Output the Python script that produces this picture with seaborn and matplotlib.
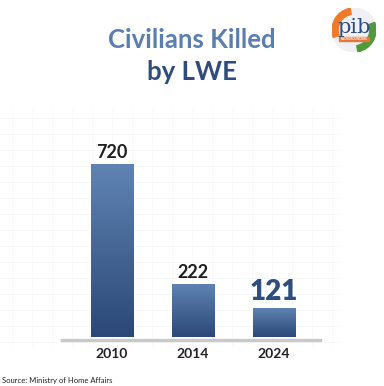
import matplotlib
matplotlib.use("Agg")
import matplotlib.pyplot as plt
import seaborn as sns
import numpy as np
import pandas as pd
from matplotlib.patches import Circle, Wedge, Rectangle
from matplotlib.colors import LinearSegmentedColormap

years = ["2010", "2014", "2024"]
killed = [720, 222, 121]
title1 = "Civilians Killed"
title2 = "by LWE"
source = "Source: Ministry of Home Affairs"

sns.set_theme(style="white")
plt.rcParams['font.family'] = ['Lato', 'DejaVu Sans']

df = pd.DataFrame({"year": years, "killed": killed})

fig = plt.figure(figsize=(3.84, 3.86), dpi=100)
fig.patch.set_facecolor("white")

# faint background grid
bg = fig.add_axes([0, 0, 1, 1], zorder=-5)
bg.set_xlim(0, 384); bg.set_ylim(386, 0)
for gx in np.arange(12, 340, 20):
    bg.plot([gx, gx], [110, 345], color="#f6f7f9", lw=0.6)
for gy in np.arange(118, 345, 16):
    bg.plot([0, 340], [gy, gy], color="#f6f7f9", lw=0.6)
bg.axis("off")

ax = fig.add_axes([62/384, 49/386, 258/384, 197/386])
ax.patch.set_alpha(0)
sns.barplot(data=df, x="year", y="killed", ax=ax, color="#4a6b9c",
            width=0.52, saturation=1)

# gradient fill
grad = np.linspace(0, 1, 256).reshape(-1, 1)
cmap = LinearSegmentedColormap.from_list("g", ["#5f84b4", "#2b4877"])
for p in ax.patches:
    x0, y0 = p.get_x(), p.get_y()
    w, h = p.get_width(), p.get_height()
    im = ax.imshow(grad, extent=[x0, x0 + w, y0, y0 + h], aspect="auto",
                   cmap=cmap, origin="upper", zorder=p.get_zorder() + 0.1)
    im.set_clip_path(p)
ax.set_xlim(-0.617, 2.574)
ax.set_ylim(0, 820)

for s in ["top", "right", "left"]:
    ax.spines[s].set_visible(False)
ax.spines["bottom"].set_color("#c9c9c9")
ax.spines["bottom"].set_linewidth(2.4)
ax.spines["bottom"].set_position(("outward", 2))
ax.set_yticks([])
ax.set_xlabel(""); ax.set_ylabel("")
ax.tick_params(axis="x", length=0, pad=6, labelsize=10, labelcolor="#222222")
for lab in ax.get_xticklabels():
    lab.set_fontweight("bold")

for i, v in enumerate(killed):
    if i == 2:
        ax.text(i, v + 14, str(v), ha="center", va="bottom", fontsize=20,
                fontweight="heavy", color="#2f4e7e")
    else:
        ax.text(i, v + 12, str(v), ha="center", va="bottom", fontsize=13,
                fontweight="bold", color="#1e1e1e")

fig.text(0.5, 1 - 40/386, title1, ha="center", va="center", fontsize=18.5,
         fontweight="bold", color="#5a7eae")
fig.text(0.5, 1 - 72/386, title2, ha="center", va="center", fontsize=18.5,
         fontweight="bold", color="#2f4c7c")
fig.text(2/384, 1 - 380/386, source, ha="left", va="center", fontsize=5.5,
         color="#222222")

# logo approximation
lg = fig.add_axes([332/384, 1 - 52/386, 44/384, 44/386])
lg.set_xlim(-1, 1); lg.set_ylim(-1, 1); lg.set_aspect("equal"); lg.axis("off")
lg.add_patch(Circle((0, 0), 1, color="#eef0f4"))
lg.add_patch(Wedge((0, 0), 1, 100, 200, width=0.28, color="#f07a2a"))
lg.add_patch(Wedge((0, 0), 1, -80, 20, width=0.28, color="#4f9a3b"))
lg.text(0, 0.12, "pib", ha="center", va="center", fontsize=15,
        color="#2f4c7c", family="DejaVu Serif")
lg.add_patch(Rectangle((-0.7, -0.52), 1.4, 0.2, color="#e8763a"))
lg.text(0, -0.42, "BACKGROUNDERS", ha="center", va="center", fontsize=2.2,
        color="white", fontweight="bold")

fig.savefig("out.png", dpi=100, facecolor="white")
